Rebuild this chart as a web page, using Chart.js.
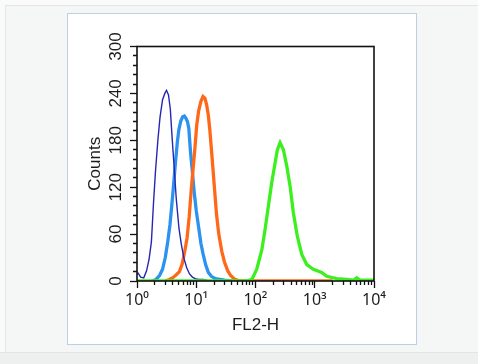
<!DOCTYPE html>
<html>
<head>
<meta charset="utf-8">
<script src="https://cdn.jsdelivr.net/npm/chart.js@4/dist/chart.umd.min.js"></script>
<style>
html,body{margin:0;padding:0;width:478px;height:364px;overflow:hidden;background:#fafafa;}
#panel{position:absolute;left:5px;top:5px;width:473px;height:346px;background:#f5f6f6;border-left:1px solid #e4e6e6;border-top:1px solid #e4e6e6;}
#foot{position:absolute;left:0;top:352px;width:478px;height:12px;background:#eef0f0;border-top:1px solid #e2e4e4;}
#box{position:absolute;left:67px;top:13px;width:348px;height:330px;background:#fff;border:1px solid #bccfe4;}
canvas{display:block;}
</style>
</head>
<body>
<div id="panel"></div>
<div id="foot"></div>
<div id="box"><canvas id="c" width="348" height="330"></canvas></div>
<script>
// FL2-H channel values (x) and event counts (y) for each histogram
const navyFL2 = [1, 1.05, 1.15, 1.3, 1.45, 1.6, 1.75, 1.9, 2.05, 2.25, 2.45, 2.7, 2.95, 3.15, 3.4, 3.65, 3.9, 4.2, 4.6, 5.1, 5.6, 6.2, 6.9, 7.7, 8.6, 9.6, 11, 13, 15, 18];
const navyCounts = [9, 10, 5, 4, 13, 28, 50, 100, 140, 180, 210, 232, 240, 244, 238, 220, 185, 150, 105, 68, 47, 29, 17, 9, 5, 3, 2, 2, 1, 0];

const blueFL2 = [1.8, 2.1, 2.4, 2.7, 3.0, 3.3, 3.6, 3.9, 4.2, 4.5, 4.8, 5.1, 5.5, 5.9, 6.3, 6.7, 7.1, 7.5, 8.0, 8.6, 9.2, 10, 11, 12, 13, 14.5, 16, 18, 21, 25, 30, 40];
const blueCounts = [0, 2, 7, 15, 30, 50, 72, 100, 128, 155, 178, 194, 205, 210, 211, 208, 204, 195, 165, 140, 115, 90, 68, 48, 35, 20, 11, 6, 3, 2, 1, 0];

const orangeFL2 = [3, 3.5, 4, 4.6, 5.2, 5.8, 6.4, 7.0, 7.6, 8.2, 8.8, 9.5, 10.2, 11, 12, 13, 14, 15, 16, 17, 18.5, 20, 22, 24, 27, 30, 34, 38, 45, 55, 2000];
const orangeCounts = [0, 2, 4, 8, 12, 22, 38, 55, 82, 115, 142, 170, 200, 218, 230, 236, 234, 225, 212, 192, 158, 125, 85, 60, 38, 24, 13, 7, 2, 0, 0];

const greenFL2 = [1, 70, 87, 105, 128, 145, 165, 188, 214, 234, 260, 296, 337, 384, 436, 509, 604, 733, 948, 1310, 1590, 2350, 3460, 4500, 5100, 5800, 10000];
const greenCounts = [0, 0, 2, 15, 40, 66, 96, 126, 151, 168, 177, 168, 147, 121, 87, 57, 34, 21, 15, 11, 6, 3, 2, 1, 4, 1, 1];

const xDecades = [1, 10, 100, 1000, 10000];
const xTickLabels = ['10\u2070', '10\u00B9', '10\u00B2', '10\u00B3', '10\u2074'];
const yTickLabels = [0, 60, 120, 180, 240, 300];

const FONT = "'Liberation Sans', Arial, Helvetica, sans-serif";
const XFONT = "'Noto Sans', 'Liberation Sans', sans-serif";
const TXT = '#1c1c1c';

function pts(xs, ys) { return xs.map((x, i) => ({x: x, y: ys[i]})); }
function decadeIndex(v) {
  for (let i = 0; i < xDecades.length; i++) if (Math.abs(xDecades[i] - v) < 1e-9) return i;
  return -1;
}
function isOddLogTick(v) {
  const e = Math.floor(Math.log10(v) + 1e-9);
  const s = v / Math.pow(10, e);
  return Math.abs(s - 1.5) < 1e-6;
}

const frame = {
  id: 'frame',
  afterDatasetsDraw(chart) {
    const a = chart.chartArea, ctx = chart.ctx;
    ctx.save();
    ctx.strokeStyle = '#111';
    ctx.lineWidth = 1.6;
    ctx.strokeRect(a.left, a.top, a.right - a.left, a.bottom - a.top);
    ctx.restore();
  }
};

new Chart(document.getElementById('c'), {
  type: 'line',
  data: {
    datasets: [
      {label: 'green', data: pts(greenFL2, greenCounts), borderColor: '#3cef1e', borderWidth: 3.3},
      {label: 'navy', data: pts(navyFL2, navyCounts), borderColor: '#2626b4', borderWidth: 1.4},
      {label: 'orange', data: pts(orangeFL2, orangeCounts), borderColor: '#ff6818', borderWidth: 3.3},
      {label: 'blue', data: pts(blueFL2, blueCounts), borderColor: '#2b92f0', borderWidth: 3.3}
    ]
  },
  options: {
    responsive: false,
    animation: false,
    devicePixelRatio: 1,
    elements: {point: {radius: 0}, line: {tension: 0, fill: false, borderJoinStyle: 'miter'}},
    layout: {padding: {top: 32.5, right: 42, left: 0, bottom: 0}},
    plugins: {legend: {display: false}, tooltip: {enabled: false}},
    scales: {
      x: {
        type: 'logarithmic', min: 1, max: 10000, position: 'bottom',
        border: {display: false},
        grid: {
          drawOnChartArea: false, drawTicks: true, tickLength: 7,
          tickColor: (c) => (c.tick && isOddLogTick(c.tick.value)) ? 'rgba(0,0,0,0)' : '#111',
          tickWidth: 1.3,
          tickBorderDash: (c) => (c.tick && decadeIndex(c.tick.value) >= 0) ? [] : [4, 10]
        },
        ticks: {
          autoSkip: false, maxRotation: 0, minRotation: 0, padding: 3, color: TXT,
          font: {family: XFONT, size: 16},
          callback: (v) => { const i = decadeIndex(v); return i >= 0 ? xTickLabels[i] : ''; }
        },
        title: {display: true, text: 'FL2-H', color: TXT, font: {family: FONT, size: 17}, padding: {top: 0, bottom: 8}},
        afterFit: (s) => { s.height = 63; }
      },
      y: {
        type: 'linear', min: 0, max: 300, position: 'left',
        border: {display: false},
        grid: {
          drawOnChartArea: false, drawTicks: true, tickLength: 7,
          tickColor: '#111', tickWidth: 1.3,
          tickBorderDash: (c) => (c.tick && yTickLabels.includes(c.tick.value)) ? [] : [0, 3, 10]
        },
        ticks: {
          stepSize: 12, autoSkip: false, minRotation: 90, maxRotation: 90, crossAlign: 'center', padding: 0,
          color: TXT, font: {family: FONT, size: 17},
          callback: (v) => yTickLabels.includes(v) ? String(v) : ''
        },
        title: {display: true, text: 'Counts', color: TXT, font: {family: FONT, size: 17}, padding: {top: 17, bottom: 0}},
        afterFit: (s) => { s.width = 69; }
      }
    }
  },
  plugins: [frame]
});
</script>
</body>
</html>
